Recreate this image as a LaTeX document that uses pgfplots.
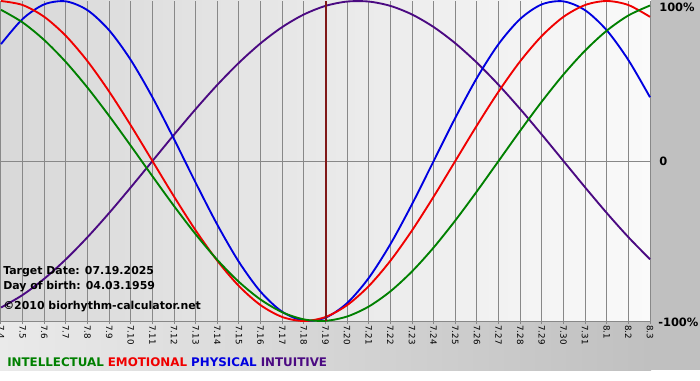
\documentclass[border=0pt]{standalone}
\usepackage{pgfplots}
\pgfplotsset{compat=1.18}
\usepackage{fontspec}
\setmainfont{DejaVu Sans}
\definecolor{cint}{HTML}{008000}
\definecolor{cemo}{HTML}{F00000}
\definecolor{cphy}{HTML}{0000E0}
\definecolor{cintu}{HTML}{4B0A82}
\definecolor{gridc}{HTML}{888888}
\definecolor{tline}{HTML}{801818}
\definecolor{bgl}{HTML}{D8D8D8}
\definecolor{bgr}{HTML}{FAFAFA}
\definecolor{bbl}{HTML}{EAEAEA}
\definecolor{bbr}{HTML}{C0C0C0}
\definecolor{side}{HTML}{C0C0C0}
\begin{document}
\begin{tikzpicture}[x=0.75pt,y=0.75pt]
\path[use as bounding box] (0,0) rectangle (700,380);
\fill[white] (0,0) rectangle (700,380);
\shade[left color=bgl, right color=bgr] (0,59) rectangle (651,380);
\shade[left color=bbl, right color=bbr] (0,10) rectangle (651,59);
\fill[side] (651,10) rectangle (700,380);
\begin{axis}[
  at={(0.75pt,44.25pt)}, anchor=south west, scale only axis,
  width=486.75pt, height=240pt,
  xmin=0, xmax=30, ymin=-1, ymax=1, clip=false,
  axis line style={draw=none},
  xtick={0,...,30},
  xticklabels={7.4,7.5,7.6,7.7,7.8,7.9,7.10,7.11,7.12,7.13,7.14,7.15,7.16,7.17,7.18,7.19,7.20,7.21,7.22,7.23,7.24,7.25,7.26,7.27,7.28,7.29,7.30,7.31,8.1,8.2,8.3},
  xmajorgrids, ytick={-1,0}, yticklabels={}, ymajorgrids,
  grid style={gridc, line width=0.75pt},
  xtick pos=bottom, tick align=outside, major tick length=2pt,
  xtick style={gridc, line width=0.75pt},
  ytick style={draw=none},
  x tick label style={rotate=-90, anchor=west, inner sep=0pt, xshift=1pt,
    font=\fontsize{6.5pt}{7pt}\selectfont},
]
\addplot[cintu, line width=1.4pt, smooth] coordinates {
(0,-0.9158)(1,-0.8372)(2,-0.7357)(3,-0.6142)(4,-0.4759)(5,-0.3247)(6,-0.1646)(7,0)(8,0.1646)(9,0.3247)(10,0.4759)(11,0.6142)(12,0.7357)(13,0.8372)(14,0.9158)(15,0.9694)(16,0.9966)(17,0.9966)(18,0.9694)(19,0.9158)(20,0.8372)(21,0.7357)(22,0.6142)(23,0.4759)(24,0.3247)(25,0.1646)(26,0)(27,-0.1646)(28,-0.3247)(29,-0.4759)(30,-0.6142)};
\addplot[cphy, line width=1.4pt, smooth] coordinates {
(0,0.7308)(1,0.8879)(2,0.9791)(3,0.9977)(4,0.9423)(5,0.8170)(6,0.6311)(7,0.3984)(8,0.1362)(9,-0.1362)(10,-0.3984)(11,-0.6311)(12,-0.8170)(13,-0.9423)(14,-0.9977)(15,-0.9791)(16,-0.8879)(17,-0.7308)(18,-0.5196)(19,-0.2698)(20,0)(21,0.2698)(22,0.5196)(23,0.7308)(24,0.8879)(25,0.9791)(26,0.9977)(27,0.9423)(28,0.8170)(29,0.6311)(30,0.3984)};
\addplot[cemo, line width=1.4pt, smooth] coordinates {
(0,1)(1,0.9749)(2,0.9010)(3,0.7818)(4,0.6235)(5,0.4339)(6,0.2225)(7,0)(8,-0.2225)(9,-0.4339)(10,-0.6235)(11,-0.7818)(12,-0.9010)(13,-0.9749)(14,-1)(15,-0.9749)(16,-0.9010)(17,-0.7818)(18,-0.6235)(19,-0.4339)(20,-0.2225)(21,0)(22,0.2225)(23,0.4339)(24,0.6235)(25,0.7818)(26,0.9010)(27,0.9749)(28,1)(29,0.9749)(30,0.9010)};
\addplot[cint, line width=1.4pt, smooth] coordinates {
(0,0.9450)(1,0.8660)(2,0.7557)(3,0.6182)(4,0.4582)(5,0.2817)(6,0.0951)(7,-0.0951)(8,-0.2817)(9,-0.4582)(10,-0.6182)(11,-0.7557)(12,-0.8660)(13,-0.9450)(14,-0.9898)(15,-0.9989)(16,-0.9718)(17,-0.9096)(18,-0.8146)(19,-0.6901)(20,-0.5406)(21,-0.3717)(22,-0.1893)(23,0)(24,0.1893)(25,0.3717)(26,0.5406)(27,0.6901)(28,0.8146)(29,0.9096)(30,0.9718)};
\addplot[tline, line width=1.5pt] coordinates {(15,-1)(15,1)};
\end{axis}
\begin{scope}[font=\fontsize{8.2pt}{9pt}\selectfont\bfseries]
\node[anchor=west, inner sep=0pt] at (3,108) {Target Date: 07.19.2025};
\node[anchor=west, inner sep=0pt] at (3,93) {Day of birth: 04.03.1959};
\node[anchor=west, inner sep=0pt] at (3,73) {©2010 biorhythm-calculator.net};
\end{scope}
\begin{scope}[font=\fontsize{8.6pt}{9pt}\selectfont\bfseries]
\node[anchor=west, inner sep=0pt] at (659,373) {100\%};
\node[anchor=west, inner sep=0pt] at (659,219) {0};
\node[anchor=west, inner sep=0pt] at (658,58) {-100\%};
\end{scope}
\node[anchor=west, inner sep=0pt, font=\fontsize{8.9pt}{9pt}\selectfont\bfseries] at (7,18)
 {\textcolor{cint}{INTELLECTUAL}\hspace{3pt}\textcolor{cemo}{EMOTIONAL}\hspace{3pt}\textcolor{cphy}{PHYSICAL}\hspace{3pt}\textcolor{cintu}{INTUITIVE}};
\end{tikzpicture}
\end{document}
